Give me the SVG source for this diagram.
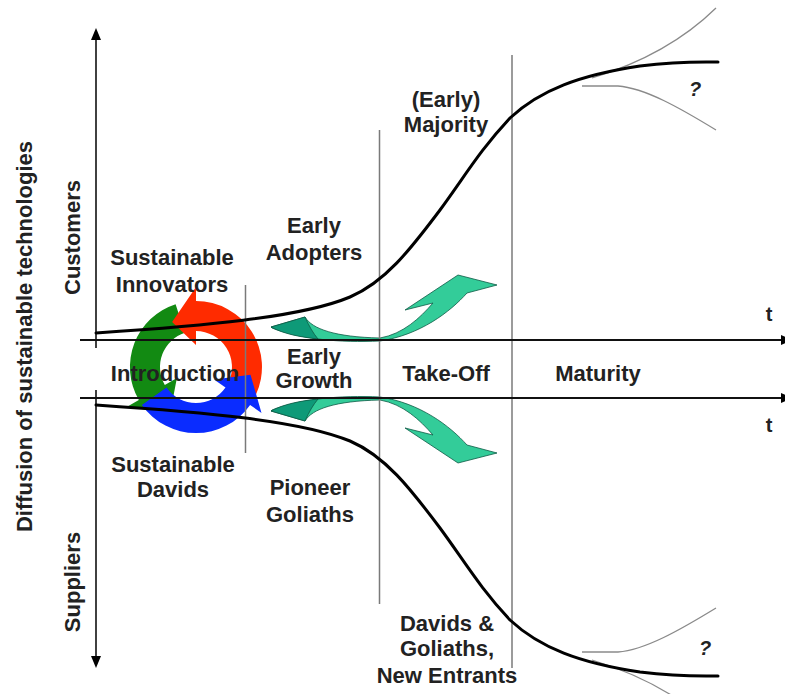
<svg xmlns="http://www.w3.org/2000/svg" width="785" height="694" viewBox="0 0 785 694">
<style>
.lbl{font-family:"Liberation Sans",Arial,sans-serif;font-weight:bold;font-size:22px;fill:#222;text-anchor:middle}
.vlbl{font-family:"Liberation Sans",Arial,sans-serif;font-weight:bold;font-size:22px;fill:#222;text-anchor:middle}
.q{font-family:"Liberation Sans",Arial,sans-serif;font-weight:bold;font-style:italic;font-size:20px;fill:#222}
.axis{stroke:#111;stroke-width:2;fill:none}
.vaxis{stroke:#111;stroke-width:1.6;fill:none}
.phase{stroke:#7a7a7a;stroke-width:1.5;fill:none}
.curve{stroke:#000;stroke-width:3;fill:none;stroke-linecap:round}
.thin{stroke:#8a8a8a;stroke-width:1.3;fill:none}
.tl{fill:#33cc99;stroke:#0d5a45;stroke-width:0.8;stroke-linejoin:round}
.td{fill:#0e9a78;stroke:#0d5a45;stroke-width:0.8;stroke-linejoin:round}
</style>
<defs>
<marker id="ah" viewBox="0 0 12 10" refX="0" refY="5" markerWidth="12" markerHeight="10" markerUnits="userSpaceOnUse" orient="auto"><path d="M0,0 L12,5 L0,10 Z" fill="#000"/></marker>
</defs>
<rect width="785" height="694" fill="#fff"/>

<g id="cycle" transform="translate(-2,-1)">
<path d="M177.6,305.2 A66,66 0 0 0 140.8,401 L128.7,408 L172.5,412.2 L178.9,379 L166.8,386 A36,36 0 0 1 186.9,333.8 Z" fill="#128a12"/>
<path d="M257.8,395.9 A66,66 0 0 0 198,302 L198,288 L174.1,323 L198,346 L198,332 A36,36 0 0 1 230.6,383.2 Z" fill="#ff2b00"/>
<path d="M143.9,405.9 A66,66 0 0 0 252.1,405.9 L263.5,413.9 L252.5,375.7 L216,380.6 L227.5,388.6 A36,36 0 0 1 168.5,388.6 Z" fill="#0a2cff"/>
</g>

<g id="teal-arrows">
<g id="arrow-up">
<path class="tl" d="M271,327 L305,317 C312,329 335,337 380,338 C403,334 420,318 433,303 L405,310 L458,275 L497,285 L467,293 C450,312 420,335 380,341 C340,343 300,339 272,328 Z"/>
<path class="td" d="M271,327 L305,317 C309,326 313,333 318,339 C300,337 284,334 271,327 Z"/>
</g>
<g id="arrow-down" transform="matrix(1 0 0 -1 0 738)">
<path class="tl" d="M271,327 L305,317 C312,329 335,337 380,338 C403,334 420,318 433,303 L405,310 L458,275 L497,285 L467,293 C450,312 420,335 380,341 C340,343 300,339 272,328 Z"/>
<path class="td" d="M271,327 L305,317 C309,326 313,333 318,339 C300,337 284,334 271,327 Z"/>
</g>
</g>

<g id="connectors">
<line class="phase" x1="245.5" y1="285" x2="245.5" y2="453"/>
<line class="phase" x1="379.5" y1="130" x2="379.5" y2="604"/>
<line class="phase" x1="512" y1="55" x2="512" y2="668"/>
<line class="axis" x1="80" y1="340" x2="781" y2="340" marker-end="url(#ah)"/>
<line class="axis" x1="80" y1="398" x2="781" y2="398" marker-end="url(#ah)"/>
<line class="vaxis" x1="96" y1="348" x2="96" y2="40" marker-end="url(#ah)"/>
<line class="vaxis" x1="96" y1="390" x2="96" y2="656" marker-end="url(#ah)"/>
<g id="customers-curve">
<path class="thin" d="M592,78 Q668,55 716,8"/>
<path class="thin" d="M582,86 L618,86 C645,88 680,108 716,130"/>
<path class="curve" d="M96,333 C200,326 300,318 350,297 C385,282 410,250 440,210 C465,176 480,150 510,118 C540,90 580,75 640,66 C680,61 700,62 718,62"/>
</g>
<g id="suppliers-curve" transform="matrix(1 0 0 -1 0 738)">
<path class="thin" d="M592,78 Q668,55 716,8"/>
<path class="thin" d="M582,86 L618,86 C645,88 680,108 716,130"/>
<path class="curve" d="M96,333 C200,326 300,318 350,297 C385,282 410,250 440,210 C465,176 480,150 510,118 C540,90 580,75 640,66 C680,61 700,62 718,62"/>
</g>
</g>

<g id="axis-labels">
<text class="vlbl" transform="translate(32,336.5) rotate(-90)">Diffusion of sustainable technologies</text>
<text class="vlbl" transform="translate(80,237.5) rotate(-90)">Customers</text>
<text class="vlbl" transform="translate(80,582) rotate(-90)">Suppliers</text>
<text class="lbl" x="769" y="321" style="font-size:20px">t</text>
<text class="lbl" x="769" y="432" style="font-size:20px">t</text>
<text class="q" x="689" y="96">?</text>
<text class="q" x="699" y="655">?</text>
</g>

<g id="sustainable-innovators"><text class="lbl" x="172" y="265">Sustainable</text><text class="lbl" x="172" y="292">Innovators</text></g>
<g id="early-adopters"><text class="lbl" x="314" y="233">Early</text><text class="lbl" x="314" y="260">Adopters</text></g>
<g id="early-majority"><text class="lbl" x="446" y="107">(Early)</text><text class="lbl" x="446" y="132">Majority</text></g>
<g id="introduction"><text class="lbl" x="175" y="381">Introduction</text></g>
<g id="early-growth"><text class="lbl" x="314" y="364">Early</text><text class="lbl" x="314" y="388">Growth</text></g>
<g id="take-off"><text class="lbl" x="446" y="381">Take-Off</text></g>
<g id="maturity"><text class="lbl" x="598" y="381">Maturity</text></g>
<g id="sustainable-davids"><text class="lbl" x="173" y="472">Sustainable</text><text class="lbl" x="173" y="497">Davids</text></g>
<g id="pioneer-goliaths"><text class="lbl" x="310" y="495">Pioneer</text><text class="lbl" x="310" y="522">Goliaths</text></g>
<g id="davids-goliaths"><text class="lbl" x="447" y="631">Davids &amp;</text><text class="lbl" x="447" y="656">Goliaths,</text><text class="lbl" x="447" y="683">New Entrants</text></g>
</svg>
